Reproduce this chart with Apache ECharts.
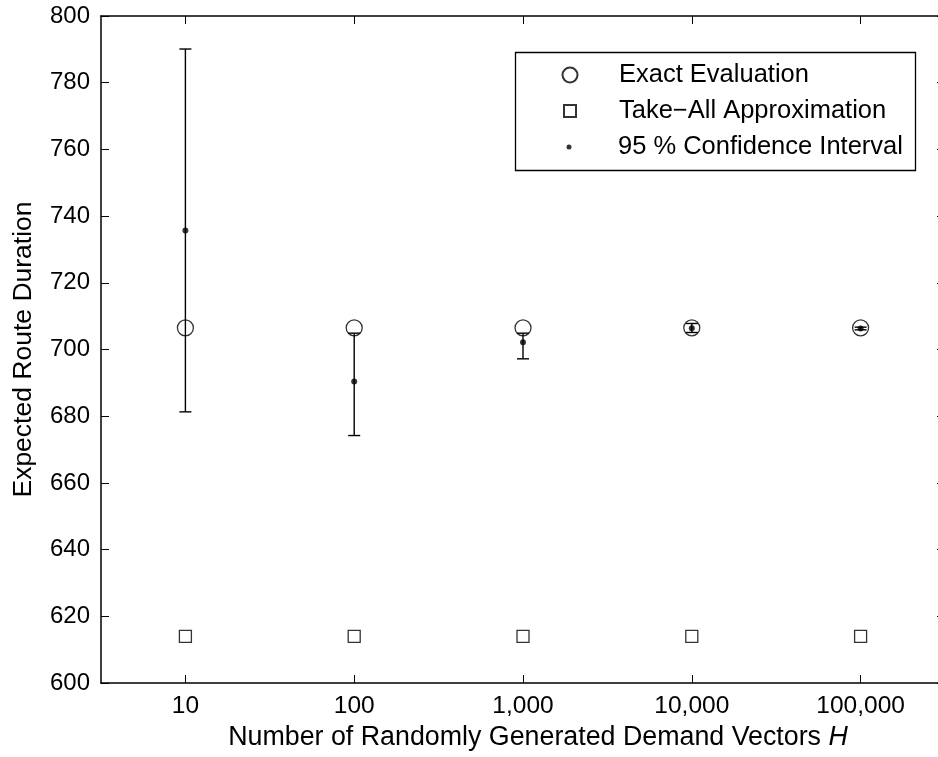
<!DOCTYPE html>
<html>
<head>
<meta charset="utf-8">
<script src="https://cdn.jsdelivr.net/npm/echarts@6/dist/echarts.min.js"></script>
<style>html,body{margin:0;padding:0;background:#fff;overflow:hidden;}#c{width:948px;height:757px;}</style>
</head>
<body>
<div id="c"></div>
<script>
const categories = ['10', '100', '1,000', '10,000', '100,000'];
const exactEvaluation = [706.5, 706.5, 706.5, 706.5, 706.5];
const takeAllApprox = [614, 614, 614, 614, 614];
const ciMean = [735.7, 690.4, 702.2, 706.4, 706.3];
const ciLower = [681.3, 674.2, 697.2, 705.1, 705.9];
const ciUpper = [790.1, 704.9, 704.9, 707.8, 706.7];
const yTicks = [600, 620, 640, 660, 680, 700, 720, 740, 760, 780, 800];

const FONT = "'Liberation Sans', Arial, Helvetica, sans-serif";
const chart = echarts.init(document.getElementById('c'), null, {renderer: 'canvas'});

const errData = categories.map((c, i) => [i, ciLower[i], ciUpper[i]]);
const axisLine = {show: true, lineStyle: {color: '#000', width: 1.5}};
const axisTick = {show: true, inside: true, length: 8, lineStyle: {color: '#000', width: 1}};
const legendText = {fontSize: 25.5, color: '#000', fontFamily: FONT, lineHeight: 28};

function legendFor(name, size, rowCenter, icon) {
  // icon centred at x=569, text starting at x=618
  return {
    data: [icon ? {name: name, icon: icon} : {name: name}],
    orient: 'vertical', align: 'left',
    left: 569 - size / 2, top: rowCenter - 14, padding: 0,
    itemWidth: size, itemHeight: size,
    textStyle: Object.assign({padding: [0, 0, 0, 618 - (569 + size / 2 + 5)]}, legendText),
    selectedMode: false
  };
}

const option = {
  backgroundColor: '#fff',
  animation: false,
  textStyle: {fontFamily: FONT, color: '#000'},
  grid: {left: 101, top: 16, width: 844, height: 667, containLabel: false},
  xAxis: [{
    type: 'category', data: categories, position: 'bottom', boundaryGap: true,
    axisLine: axisLine,
    axisTick: Object.assign({alignWithLabel: true}, axisTick),
    axisLabel: {fontSize: 24.5, color: '#000', margin: 11, fontFamily: FONT},
    splitLine: {show: false},
    name: 'Number of Randomly Generated Demand Vectors {i|H}',
    nameLocation: 'middle', nameGap: 40,
    nameTextStyle: {fontSize: 26.8, color: '#000', fontFamily: FONT, padding: [0, 0, 0, 30],
      rich: {i: {fontStyle: 'italic', fontSize: 26.8, fontFamily: FONT, color: '#000'}}}
  }, {
    type: 'category', data: categories, position: 'top', boundaryGap: true,
    axisLine: axisLine,
    axisTick: Object.assign({alignWithLabel: true}, axisTick),
    axisLabel: {show: false}, splitLine: {show: false}
  }],
  yAxis: [{
    type: 'value', min: yTicks[0], max: yTicks[yTicks.length - 1], interval: 20, position: 'left',
    axisLine: axisLine, axisTick: axisTick,
    axisLabel: {fontSize: 24, color: '#000', margin: 11, fontFamily: FONT},
    splitLine: {show: false},
    name: 'Expected Route Duration', nameLocation: 'middle', nameGap: 64, nameRotate: 90,
    nameTextStyle: {fontSize: 26.5, color: '#000', fontFamily: FONT}
  }, {
    type: 'value', min: yTicks[0], max: yTicks[yTicks.length - 1], interval: 20, position: 'right',
    axisLine: axisLine, axisTick: axisTick,
    axisLabel: {show: false}, splitLine: {show: false}
  }],
  legend: [
    legendFor('Exact Evaluation', 15, 75),
    legendFor('Take\u2212All Approximation', 12, 111),
    legendFor('95 % Confidence Interval', 5, 147)
  ],
  graphic: [{
    type: 'rect', left: 513, top: 50, z: 0,
    shape: {width: 400, height: 118},
    style: {fill: 'none', stroke: '#000', lineWidth: 1.3}
  }],
  series: [{
    type: 'custom', name: 'ci-bars', xAxisIndex: 0, yAxisIndex: 0,
    data: errData, encode: {x: 0, y: [1, 2]}, z: 3,
    renderItem: function (params, api) {
      const lo = api.coord([api.value(0), api.value(1)]);
      const hi = api.coord([api.value(0), api.value(2)]);
      const hw = 6;
      const st = {stroke: '#000', lineWidth: 1.4, fill: 'none'};
      return {type: 'group', children: [
        {type: 'line', shape: {x1: lo[0], y1: lo[1], x2: hi[0], y2: hi[1]}, style: st},
        {type: 'line', shape: {x1: lo[0] - hw, y1: lo[1], x2: lo[0] + hw, y2: lo[1]}, style: st},
        {type: 'line', shape: {x1: hi[0] - hw, y1: hi[1], x2: hi[0] + hw, y2: hi[1]}, style: st}
      ]};
    }
  }, {
    type: 'scatter', name: 'Exact Evaluation', data: exactEvaluation,
    symbol: 'circle', symbolSize: 16, z: 2,
    itemStyle: {color: 'rgba(0,0,0,0)', borderColor: '#000', borderWidth: 1.3}
  }, {
    type: 'scatter', name: 'Take\u2212All Approximation', data: takeAllApprox,
    symbol: 'rect', symbolSize: 12, z: 2,
    itemStyle: {color: 'rgba(0,0,0,0)', borderColor: '#000', borderWidth: 1.3}
  }, {
    type: 'scatter', name: '95 % Confidence Interval', data: ciMean,
    symbol: 'circle', symbolSize: 6, z: 4,
    itemStyle: {color: '#000'}
  }]
};
chart.setOption(option);
</script>
</body>
</html>
